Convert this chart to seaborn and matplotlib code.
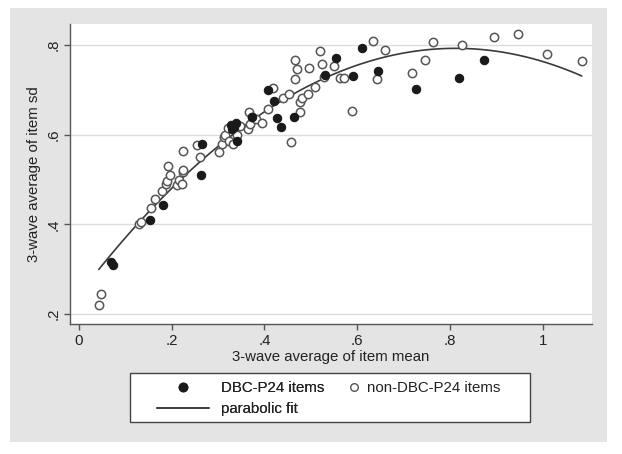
import numpy as np
import pandas as pd
import seaborn as sns
import matplotlib.pyplot as plt
from matplotlib.patches import Rectangle
from matplotlib.lines import Line2D

# DBC-P24 items (filled markers)
dbc_mean = [0.069, 0.073, 0.153, 0.181, 0.264, 0.266, 0.327, 0.334, 0.338, 0.340,
            0.330, 0.374, 0.408, 0.420, 0.428, 0.435, 0.463, 0.531, 0.554, 0.590,
            0.611, 0.644, 0.727, 0.819, 0.873]
dbc_sd = [0.317, 0.310, 0.410, 0.444, 0.511, 0.579, 0.621, 0.618, 0.626, 0.585,
          0.613, 0.639, 0.700, 0.675, 0.637, 0.617, 0.639, 0.734, 0.772, 0.730,
          0.793, 0.742, 0.701, 0.727, 0.767]

# non-DBC-P24 items (hollow markers)
non_mean = [0.043, 0.048, 0.129, 0.135, 0.155, 0.165, 0.180, 0.187, 0.190, 0.193,
            0.197, 0.211, 0.216, 0.222, 0.225, 0.224, 0.225, 0.254, 0.262, 0.303,
            0.308, 0.312, 0.315, 0.321, 0.324, 0.332, 0.341, 0.347, 0.364, 0.366,
            0.370, 0.373, 0.381, 0.394, 0.408, 0.418, 0.440, 0.452, 0.457, 0.466,
            0.466, 0.471, 0.476, 0.477, 0.480, 0.495, 0.496, 0.510, 0.519, 0.525,
            0.529, 0.551, 0.563, 0.572, 0.588, 0.633, 0.643, 0.660, 0.719, 0.746,
            0.764, 0.826, 0.894, 0.947, 1.010, 1.084]
non_sd = [0.221, 0.245, 0.401, 0.405, 0.436, 0.456, 0.475, 0.490, 0.498, 0.531,
          0.510, 0.487, 0.499, 0.491, 0.516, 0.522, 0.564, 0.578, 0.550, 0.561,
          0.580, 0.595, 0.600, 0.614, 0.587, 0.580, 0.599, 0.620, 0.612, 0.650,
          0.624, 0.639, 0.636, 0.627, 0.658, 0.704, 0.681, 0.691, 0.584, 0.724,
          0.767, 0.747, 0.650, 0.674, 0.681, 0.690, 0.748, 0.706, 0.786, 0.758,
          0.728, 0.753, 0.727, 0.727, 0.652, 0.810, 0.724, 0.789, 0.737, 0.766,
          0.807, 0.800, 0.819, 0.824, 0.781, 0.765]

x_ticks = [0, 0.2, 0.4, 0.6, 0.8, 1.0]
x_labels = ['0', '.2', '.4', '.6', '.8', '1']
y_ticks = [0.2, 0.4, 0.6, 0.8]
y_labels = ['.2', '.4', '.6', '.8']

df = pd.DataFrame({'mean': dbc_mean + non_mean,
                   'sd': dbc_sd + non_sd,
                   'group': ['DBC-P24 items'] * len(dbc_mean) + ['non-DBC-P24 items'] * len(non_mean)})

sns.set_style('white')
plt.rcParams['font.family'] = ['Liberation Sans', 'DejaVu Sans']

W, H = 622, 454
fig = plt.figure(figsize=(W / 100, H / 100), dpi=100)
fig.patch.set_facecolor('white')


def px_box(x0, y0, x1, y1, **kw):
    # rectangle given in pixel coords (origin top-left)
    return Rectangle((x0 / W, 1 - y1 / H), (x1 - x0) / W, (y1 - y0) / H,
                     transform=fig.transFigure, **kw)


# light grey graph region and the white legend box
fig.patches.append(px_box(10, 8, 607, 442, facecolor='#e4e4e4', edgecolor='none', zorder=-10))
fig.patches.append(px_box(130, 373, 530, 422, facecolor='white', edgecolor='#444444',
                          linewidth=1.0, zorder=-5))

ax = fig.add_axes([70 / W, 1 - 324 / H, (592 - 70) / W, (324 - 24) / H])
ax.set_facecolor('white')

# parabolic fit over all items
sns.regplot(data=df, x='mean', y='sd', order=2, ci=None, scatter=False, ax=ax,
            line_kws={'color': '#3a3a3a', 'lw': 1.2, 'zorder': 2})

sns.scatterplot(data=df[df['group'] == 'non-DBC-P24 items'], x='mean', y='sd', ax=ax,
                s=36, facecolor='white', edgecolor='#555555', linewidth=1.1, zorder=3)
sns.scatterplot(data=df[df['group'] == 'DBC-P24 items'], x='mean', y='sd', ax=ax,
                s=36, color='#1a1a1a', edgecolor='#1a1a1a', linewidth=0.8, zorder=4)

ax.set_xlim(-0.019, 1.106)
ax.set_ylim(0.178, 0.847)
ax.set_xticks(x_ticks)
ax.set_xticklabels(x_labels)
ax.set_yticks(y_ticks)
ax.set_yticklabels(y_labels, rotation=90, va='center')
ax.yaxis.grid(True, color='#dcdcdc', lw=1.0)
ax.xaxis.grid(False)
ax.set_axisbelow(True)

for side in ['top', 'right']:
    ax.spines[side].set_visible(False)
for side in ['left', 'bottom']:
    ax.spines[side].set_color('#555555')
    ax.spines[side].set_linewidth(1.0)
fs = 10.8
ax.tick_params(axis='both', direction='out', length=4, width=1, color='#555555',
               labelsize=fs, labelcolor='#222222', bottom=True, left=True, pad=3)

ax.set_xlabel('3-wave average of item mean', fontsize=fs, color='#222222', labelpad=2)
ax.set_ylabel('3-wave average of item sd', fontsize=fs, color='#222222', labelpad=4)

# legend, two frameless pieces inside the drawn box
h_dbc = Line2D([], [], marker='o', ls='none', color='#1a1a1a', markersize=6)
h_fit = Line2D([], [], color='#3a3a3a', lw=1.2)
h_non = Line2D([], [], marker='o', ls='none', markerfacecolor='white',
               markeredgecolor='#555555', markeredgewidth=1.0, markersize=5.5)

common = dict(loc='upper left', frameon=False, fontsize=fs, borderpad=0,
              borderaxespad=0, labelspacing=0.45, labelcolor='#222222')
leg1 = fig.legend([h_dbc, h_fit], ['DBC-P24 items', 'parabolic fit'],
                  bbox_to_anchor=(157 / W, 1 - 381 / H), handlelength=3.5,
                  handletextpad=0.8, **common)
fig.add_artist(leg1)
leg2 = fig.legend([h_non], ['non-DBC-P24 items'],
                  bbox_to_anchor=(346 / W, 1 - 381 / H), handlelength=1.0,
                  handletextpad=0.4, **common)

fig.savefig('out.png', dpi=100)
